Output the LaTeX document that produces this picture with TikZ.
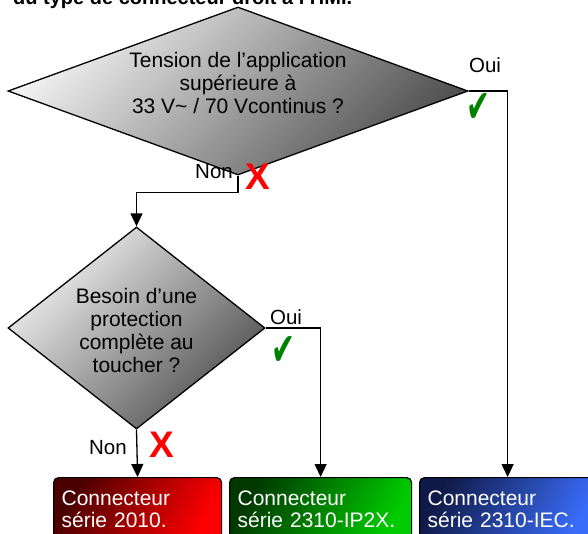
\documentclass[tikz,border=0pt]{standalone}
\usepackage{fontspec}
\setmainfont{Liberation Sans}
\newfontfamily\symfont{DejaVu Sans}
\usetikzlibrary{shapes.geometric,arrows.meta}
\definecolor{dlight}{HTML}{F2F2F2}
\definecolor{ddark}{HTML}{505050}
\definecolor{rdark}{HTML}{4A0000}
\definecolor{rbright}{HTML}{FF0000}
\definecolor{gdark}{HTML}{003800}
\definecolor{gbright}{HTML}{00CC00}
\definecolor{bdark}{HTML}{101A48}
\definecolor{bbright}{HTML}{3A6CFA}
\definecolor{okgreen}{HTML}{008000}
\begin{document}
\begin{tikzpicture}[x=1pt,y=-1pt,
  conn/.style={line width=1.3pt, -{Triangle[length=13pt,width=12pt]}},
  decision/.style={diamond, draw, line width=1.3pt, inner sep=0pt,
    top color=dlight, bottom color=ddark, shading angle=45},
  result/.style={draw, line width=1.2pt, rounded corners=5pt, anchor=north west,
    minimum height=64pt, align=left, text=white, inner xsep=8pt,
    font=\fontsize{21}{22}\selectfont},
  qtext/.style={align=center, inner sep=0pt, font=\fontsize{21}{23}\selectfont},
  lbl/.style={inner sep=0pt, font=\fontsize{20.5}{23}\selectfont},
  nomark/.style={inner sep=0pt, text=red, font=\bfseries\fontsize{37}{40}\selectfont},
  okmark/.style={inner sep=0pt, text=okgreen, xscale=0.62, font=\symfont\fontsize{46}{48}\selectfont}
]
\useasboundingbox (0,0) rectangle (588,533);
\clip (0,0) rectangle (588,533);

\node[anchor=base west, inner sep=0pt, font=\bfseries\fontsize{20}{24}\selectfont] (title) at (13,4) {du type de connecteur droit à l’HMI.};

\node[decision, minimum width=460pt, minimum height=168pt] (d1) at (238,91) {};
\node[qtext] (t1) at (238,83) {Tension de l’application\\supérieure à\\33 V\char`~{} / 70 Vcontinus ?};

\node[decision, minimum width=257pt, minimum height=202pt] (d2) at (136.5,328) {};
\node[qtext] (t2) at (136.5,330.5) {Besoin d’une\\protection\\complète au\\toucher ?};

\node[result, minimum width=168pt, text width=152pt, top color=rdark, bottom color=rbright, shading angle=62] (b1) at (53,477) {Connecteur\\série 2010.};
\node[result, minimum width=182pt, text width=166pt, top color=gdark, bottom color=gbright, shading angle=62] (b2) at (229,477) {Connecteur\\série 2310-IP2X.};
\node[result, minimum width=176pt, text width=160pt, top color=bdark, bottom color=bbright, shading angle=62] (b3) at (419,477) {Connecteur\\série 2310-IEC.};

\draw[conn] (d1.east) -| (b3.north);
\draw[conn] (d1.south) -- ++(0,17) -| (d2.north);
\draw[conn] (d2.east) -| (b2.north);
\draw[conn] (d2.south) -- (b1.north);

\node[lbl] (oui1) at (485,65) {Oui};
\node[okmark] (ok1) at (478,108) {✔};
\node[lbl] (non1) at (214,172) {Non};
\node[nomark] (x1) at (258,177) {X};

\node[lbl] (oui2) at (286,317) {Oui};
\node[okmark] (ok2) at (283,351) {✔};
\node[lbl] (non2) at (108,448) {Non};
\node[nomark] (x2) at (162,445) {X};
\end{tikzpicture}
\end{document}
